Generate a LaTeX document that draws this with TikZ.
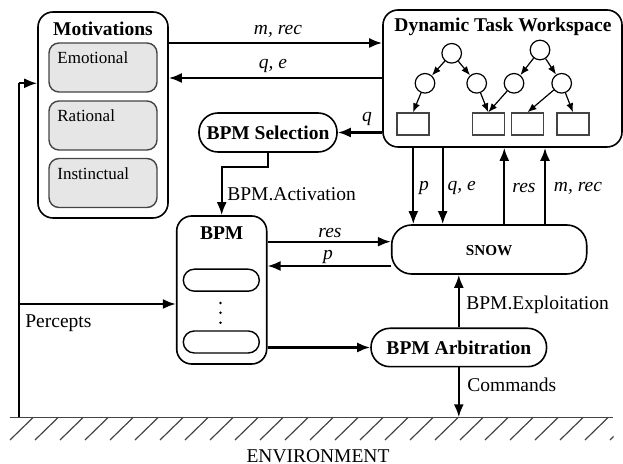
\documentclass[tikz,border=0pt]{standalone}
\usepackage{fontspec}
\setmainfont{Liberation Serif}
\usetikzlibrary{arrows.meta,calc}
\definecolor{boxgray}{HTML}{E6E6E6}
\definecolor{edgegray}{HTML}{444444}
\begin{document}
\begin{tikzpicture}[x=0.5pt,y=-0.5pt,
  lab/.style={font=\fontsize{9.75}{11}\selectfont, inner sep=0pt},
  ttl/.style={font=\fontsize{9.75}{11}\selectfont\bfseries, inner sep=0pt},
  small/.style={font=\fontsize{8.5}{10}\selectfont, inner sep=0pt},
  bigbox/.style={draw, line width=0.8pt, rounded corners=7.5pt, inner sep=0pt},
  subbox/.style={draw=edgegray, fill=boxgray, line width=0.7pt, rounded corners=5pt, inner sep=0pt, minimum width=54pt, minimum height=24.5pt},
  pill/.style={draw, line width=0.7pt, rounded corners=5.5pt, inner sep=0pt, minimum width=38pt, minimum height=11pt},
  roundbox/.style={draw, line width=0.8pt, rounded corners=9.5pt, inner sep=0pt},
  tcirc/.style={draw, circle, line width=0.6pt, minimum size=9.8pt, inner sep=0pt},
  trect/.style={draw=edgegray, line width=0.7pt, minimum width=16pt, minimum height=11pt, inner sep=0pt},
  arr/.style={line width=1.1pt, -{Latex[length=6.5pt,width=5pt]}},
  tarr/.style={line width=0.6pt, -{Latex[length=4.5pt,width=3.5pt]}},
  thinline/.style={line width=0.8pt},
  ground/.style={draw=edgegray, line width=0.6pt}
]
\useasboundingbox (0,0) rectangle (623,464);

% Motivations
\node[bigbox, minimum width=65pt, minimum height=103pt] (mot) at (103,115) {};
\node[ttl] (motT) at (103,29) {Motivations};
\node[subbox] (emo) at (103,67.5) {};
\node[subbox] (rat) at (103,125.5) {};
\node[subbox] (ins) at (103,183) {};
\node[small, anchor=west] (emoT) at (57,58) {Emotional};
\node[small, anchor=west] (ratT) at (57,116) {Rational};
\node[small, anchor=west] (insT) at (57,174) {Instinctual};

% Dynamic Task Workspace
\node[bigbox, minimum width=119.5pt, minimum height=68.5pt] (dtw) at (502.5,78.5) {};
\node[ttl] (dtwT) at (503,27) {Dynamic Task Workspace};
\node[tcirc] (c1) at (451.7,53.3) {};
\node[tcirc] (c2) at (425,83.3) {};
\node[tcirc] (c3) at (476.7,83.3) {};
\node[tcirc] (c4) at (540,50) {};
\node[tcirc] (c5) at (514,83.3) {};
\node[tcirc] (c6) at (561.7,83.3) {};
\node[trect] (r1) at (413,124) {};
\node[trect] (r2) at (488.3,124) {};
\node[trect] (r3) at (527.5,124) {};
\node[trect] (r4) at (573,124) {};
\draw[tarr] (c1) -- (c2);
\draw[tarr] (c1) -- (c3);
\draw[tarr] (c4) -- (c5);
\draw[tarr] (c4) -- (c6);
\draw[tarr] (c2) -- (r1.north);
\draw[tarr] (c3) -- (r2.north);
\draw[tarr] (c5) -- (r2.north);
\draw[tarr] (c6) -- (r3.north);
\draw[tarr] (c6) -- (r4.north);

% BPM Selection
\node[roundbox, minimum width=69pt, minimum height=19.5pt] (sel) at (268,132.5) {};
\node[ttl] (selT) at (268,132.5) {BPM Selection};

% BPM
\node[bigbox, minimum width=45pt, minimum height=74pt] (bpm) at (221.7,290) {};
\node[ttl] (bpmT) at (221.7,233) {BPM};
\node[pill] (p1) at (221.3,280.2) {};
\node[pill] (p2) at (221.3,342) {};
\fill (220.5,303) circle (1.4);
\fill (220.5,312.7) circle (1.4);
\fill (220.5,322.7) circle (1.4);

% SNOW
\node[draw, line width=0.8pt, rounded corners=10pt, inner sep=0pt, minimum width=97.5pt, minimum height=24.5pt] (snow) at (489.2,249.5) {};
\node[font=\fontsize{7.6}{9}\selectfont\bfseries, inner sep=0pt] (snowT) at (489.2,250.5) {SNOW};

% BPM Arbitration
\node[roundbox, minimum width=87.8pt, minimum height=19.2pt] (arb) at (458.8,347.5) {};
\node[ttl] (arbT) at (458.8,347.5) {BPM Arbitration};

% coordinates
\coordinate (ymr) at (0,43);
\coordinate (yqe) at (0,78);
\coordinate (yact) at (0,167);
\coordinate (yres) at (0,241.7);
\coordinate (yp) at (0,266);
\coordinate (xp) at (413.3,0);
\coordinate (xqe) at (442.7,0);
\coordinate (xres) at (504.3,0);
\coordinate (xmr) at (545,0);
\coordinate (gnd) at (458.8,417.3);
\coordinate (fb) at (19,417.3);
\coordinate (fbtop) at (19,83.3);
\coordinate (pc) at (19,304);

% top connectors
\draw[arr] (mot.east |- ymr) -- (dtw.west |- ymr);
\node[lab] (lmr) at (278,31) {\textit{m, rec}};
\draw[arr] (dtw.west |- yqe) -- (mot.east |- yqe);
\node[lab] (lqe) at (273,66) {\textit{q, e}};
\draw[arr] (dtw.west |- sel.east) -- (sel.east);
\node[lab] (lq) at (367,119) {\textit{q}};

% activation
\draw[arr] (sel.south) -- (sel.south |- yact) -| (bpm.north);
\node[lab, anchor=west] (lact) at (227,194) {BPM.Activation};

% BPM <-> SNOW
\draw[arr] (bpm.east |- yres) -- (snow.west |- yres);
\node[lab] (lres) at (330,233) {\textit{res}};
\draw[arr] (snow.west |- yp) -- (bpm.east |- yp);
\node[lab] (lp) at (328,257) {\textit{p}};

% DTW <-> SNOW
\draw[arr] (dtw.south -| xp) -- (snow.north -| xp);
\node[lab] (lp2) at (424,188) {\textit{p}};
\draw[arr] (dtw.south -| xqe) -- (snow.north -| xqe);
\node[lab] (lqe2) at (461.7,188) {\textit{q, e}};
\draw[arr] (snow.north -| xres) -- (dtw.south -| xres);
\node[lab] (lres2) at (524,188) {\textit{res}};
\draw[arr] (snow.north -| xmr) -- (dtw.south -| xmr);
\node[lab] (lmr2) at (578,188) {\textit{m, rec}};

% arbitration
\draw[arr] (arb.north) -- (arb.north |- snow.south);
\node[lab, anchor=west] (lexp) at (466,305) {BPM.Exploitation};
\draw[arr] (bpm.east |- arb.west) -- (arb.west);
\draw[arr] (arb.south) -- (gnd);
\node[lab, anchor=west] (lcmd) at (467,385) {Commands};

% feedback
\draw[thinline] (fb) -- (fbtop);
\draw[arr] (fbtop) -- (mot.west |- fbtop);
\draw[arr] (pc) -- (bpm.west |- pc);
\node[lab, anchor=west] (lperc) at (25,323) {Percepts};

% ground
\draw[ground] (10,417.3) -- (613,417.3);
\begin{scope}
\clip (8,417) rectangle (613.5,445);
\foreach \i in {0,...,24} {
  \draw[ground] (10+25*\i,440) -- (33.3+25*\i,417.3);
}
\end{scope}
\node[lab] (env) at (318,456) {ENVIRONMENT};
\end{tikzpicture}
\end{document}
